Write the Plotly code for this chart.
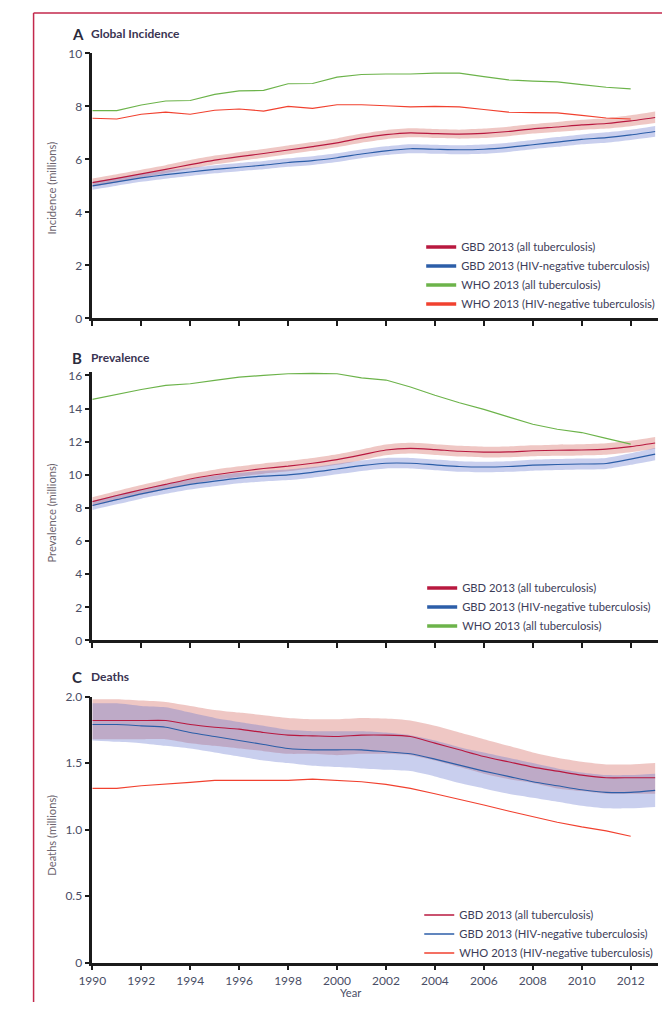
import plotly.graph_objects as go

# ---------------- data ----------------
years = list(range(1990, 2014))
who_years = list(range(1990, 2013))

# A. Incidence (millions)
inc_gbd_all = [5.12, 5.28, 5.45, 5.62, 5.80, 5.97, 6.10, 6.22, 6.35, 6.48, 6.62, 6.80,
               6.93, 7.00, 6.97, 6.95, 6.98, 7.05, 7.15, 7.22, 7.30, 7.35, 7.45, 7.58]
inc_gbd_all_lo = [4.97, 5.13, 5.30, 5.47, 5.64, 5.81, 5.94, 6.06, 6.19, 6.32, 6.46, 6.63,
                  6.76, 6.83, 6.80, 6.78, 6.80, 6.87, 6.97, 7.04, 7.11, 7.16, 7.25, 7.37]
inc_gbd_all_hi = [5.28, 5.44, 5.61, 5.78, 5.97, 6.14, 6.27, 6.39, 6.52, 6.65, 6.79, 6.97,
                  7.10, 7.17, 7.14, 7.12, 7.16, 7.23, 7.33, 7.41, 7.49, 7.55, 7.66, 7.80]
inc_gbd_neg = [5.00, 5.15, 5.30, 5.42, 5.52, 5.62, 5.70, 5.78, 5.88, 5.95, 6.06, 6.20,
               6.32, 6.40, 6.38, 6.36, 6.38, 6.45, 6.55, 6.65, 6.75, 6.82, 6.92, 7.05]
inc_gbd_neg_lo = [4.85, 5.00, 5.15, 5.27, 5.37, 5.47, 5.55, 5.63, 5.72, 5.79, 5.90, 6.04,
                  6.16, 6.23, 6.21, 6.19, 6.21, 6.28, 6.38, 6.47, 6.57, 6.63, 6.73, 6.85]
inc_gbd_neg_hi = [5.15, 5.30, 5.45, 5.58, 5.68, 5.78, 5.86, 5.94, 6.04, 6.12, 6.23, 6.37,
                  6.49, 6.57, 6.55, 6.53, 6.56, 6.63, 6.73, 6.84, 6.94, 7.02, 7.12, 7.26]
inc_who_all = [7.84, 7.84, 8.05, 8.20, 8.22, 8.45, 8.58, 8.60, 8.85, 8.86, 9.10, 9.20,
               9.22, 9.22, 9.25, 9.25, 9.12, 9.00, 8.95, 8.92, 8.82, 8.72, 8.66]
inc_who_neg = [7.55, 7.52, 7.70, 7.78, 7.70, 7.85, 7.90, 7.82, 8.00, 7.92, 8.06, 8.06,
               8.02, 7.98, 8.00, 7.98, 7.88, 7.78, 7.76, 7.75, 7.66, 7.56, 7.52]

# B. Prevalence (millions)
prev_gbd_all = [8.38, 8.75, 9.10, 9.42, 9.75, 10.00, 10.20, 10.38, 10.52, 10.70, 10.92, 11.20,
                11.50, 11.60, 11.52, 11.42, 11.37, 11.38, 11.45, 11.48, 11.50, 11.55, 11.70, 11.92]
prev_gbd_all_lo = [8.10, 8.46, 8.80, 9.12, 9.44, 9.69, 9.89, 10.07, 10.21, 10.39, 10.60, 10.88,
                   11.18, 11.28, 11.20, 11.10, 11.05, 11.06, 11.12, 11.15, 11.17, 11.21, 11.36, 11.57]
prev_gbd_all_hi = [8.65, 9.03, 9.39, 9.72, 10.06, 10.31, 10.51, 10.69, 10.83, 11.01, 11.24, 11.53,
                   11.83, 11.93, 11.85, 11.75, 11.70, 11.71, 11.78, 11.82, 11.84, 11.90, 12.05, 12.28]
prev_gbd_neg = [8.15, 8.50, 8.85, 9.15, 9.42, 9.62, 9.80, 9.92, 10.00, 10.15, 10.35, 10.55,
                10.70, 10.70, 10.60, 10.50, 10.47, 10.50, 10.58, 10.62, 10.65, 10.68, 10.95, 11.25]
prev_gbd_neg_lo = [7.88, 8.22, 8.56, 8.85, 9.11, 9.31, 9.49, 9.60, 9.68, 9.83, 10.03, 10.23,
                   10.38, 10.38, 10.28, 10.18, 10.15, 10.18, 10.25, 10.29, 10.32, 10.35, 10.60, 10.88]
prev_gbd_neg_hi = [8.42, 8.78, 9.14, 9.45, 9.73, 9.94, 10.12, 10.24, 10.32, 10.47, 10.67, 10.87,
                   11.02, 11.02, 10.92, 10.82, 10.79, 10.82, 10.91, 10.95, 10.98, 11.02, 11.30, 11.62]
prev_who_all = [14.55, 14.85, 15.15, 15.40, 15.50, 15.70, 15.90, 16.00, 16.10, 16.12, 16.10, 15.85,
                15.72, 15.30, 14.80, 14.35, 13.95, 13.50, 13.05, 12.75, 12.55, 12.20, 11.85]

# C. Deaths (millions)
dth_gbd_all = [1.82, 1.82, 1.82, 1.82, 1.79, 1.77, 1.755, 1.73, 1.71, 1.705, 1.70, 1.71,
               1.71, 1.70, 1.65, 1.60, 1.55, 1.51, 1.47, 1.44, 1.41, 1.39, 1.39, 1.39]
dth_gbd_all_lo = [1.68, 1.68, 1.68, 1.68, 1.65, 1.63, 1.61, 1.59, 1.57, 1.57, 1.56, 1.57,
                  1.57, 1.56, 1.52, 1.47, 1.42, 1.38, 1.35, 1.31, 1.29, 1.27, 1.27, 1.27]
dth_gbd_all_hi = [1.98, 1.98, 1.97, 1.96, 1.93, 1.90, 1.88, 1.86, 1.84, 1.83, 1.83, 1.84,
                  1.835, 1.82, 1.78, 1.73, 1.68, 1.63, 1.58, 1.54, 1.51, 1.49, 1.49, 1.50]
dth_gbd_neg = [1.79, 1.79, 1.78, 1.77, 1.73, 1.70, 1.67, 1.64, 1.61, 1.60, 1.60, 1.60,
               1.585, 1.57, 1.53, 1.485, 1.44, 1.40, 1.36, 1.33, 1.30, 1.28, 1.28, 1.295]
dth_gbd_neg_lo = [1.67, 1.66, 1.65, 1.63, 1.61, 1.58, 1.55, 1.52, 1.50, 1.48, 1.47, 1.46,
                  1.45, 1.44, 1.40, 1.35, 1.31, 1.27, 1.24, 1.21, 1.18, 1.16, 1.16, 1.17]
dth_gbd_neg_hi = [1.95, 1.95, 1.93, 1.92, 1.88, 1.84, 1.81, 1.78, 1.75, 1.74, 1.74, 1.74,
                  1.73, 1.71, 1.67, 1.62, 1.58, 1.54, 1.50, 1.46, 1.43, 1.41, 1.41, 1.42]
dth_who_neg = [1.31, 1.31, 1.33, 1.34, 1.355, 1.37, 1.37, 1.365, 1.37, 1.38, 1.37, 1.36,
               1.34, 1.31, 1.27, 1.23, 1.185, 1.14, 1.095, 1.055, 1.02, 0.99, 0.95]

x_tick_vals = list(range(1990, 2013, 2))
x_tick_text = [str(v) for v in x_tick_vals]
inc_ticks = [0, 2, 4, 6, 8, 10]
inc_tick_text = ["0", "2", "4", "6", "8", "10"]
prev_ticks = [0, 2, 4, 6, 8, 10, 12, 14, 16]
prev_tick_text = ["0", "2", "4", "6", "8", "10", "12", "14", "16"]
dth_ticks = [0, 0.5, 1.0, 1.5, 2.0]
dth_tick_text = ["0", "0.5", "1.0", "1.5", "2.0"]

lab_all = "GBD 2013 (all tuberculosis)"
lab_neg = "GBD 2013 (HIV-negative tuberculosis)"
lab_who_all = "WHO 2013 (all tuberculosis)"
lab_who_neg = "WHO 2013 (HIV-negative tuberculosis)"

# ---------------- style ----------------
W, H = 662, 1009
C_ALL = "#b8183f"
C_NEG = "#2c5ea8"
C_WHO_ALL = "#6cb34a"
C_WHO_NEG = "#f1412f"
BAND_ALL = "rgba(210,100,92,0.36)"
BAND_NEG = "rgba(100,118,205,0.35)"
TXT = "#4a4e66"
FONT = "Lato"


def px(xp):
    return xp / W


def py(yp):
    return 1 - yp / H


fig = go.Figure()


def band(x, lo, hi, color, xa, ya):
    fig.add_trace(go.Scatter(x=x, y=lo, mode="lines", line=dict(width=0, shape="spline", smoothing=0.6),
                             showlegend=False, hoverinfo="skip", xaxis=xa, yaxis=ya))
    fig.add_trace(go.Scatter(x=x, y=hi, mode="lines", line=dict(width=0, shape="spline", smoothing=0.6),
                             fill="tonexty", fillcolor=color, showlegend=False, hoverinfo="skip",
                             xaxis=xa, yaxis=ya))


def line(x, y, color, xa, ya, name, width=1.15, spline=True):
    fig.add_trace(go.Scatter(x=x, y=y, mode="lines", name=name,
                             line=dict(color=color, width=width,
                                       shape="spline" if spline else "linear", smoothing=0.6),
                             showlegend=False, xaxis=xa, yaxis=ya))


def legend_key(name, color, legend, width):
    fig.add_trace(go.Scatter(x=[None], y=[None], mode="lines", name=name,
                             line=dict(color=color, width=width), legend=legend,
                             showlegend=True, xaxis="x", yaxis="y"))


# Panel A
band(years, inc_gbd_all_lo, inc_gbd_all_hi, BAND_ALL, "x", "y")
band(years, inc_gbd_neg_lo, inc_gbd_neg_hi, BAND_NEG, "x", "y")
line(who_years, inc_who_all, C_WHO_ALL, "x", "y", lab_who_all, spline=False)
line(who_years, inc_who_neg, C_WHO_NEG, "x", "y", lab_who_neg, spline=False)
line(years, inc_gbd_all, C_ALL, "x", "y", lab_all)
line(years, inc_gbd_neg, C_NEG, "x", "y", lab_neg)

# Panel B
band(years, prev_gbd_all_lo, prev_gbd_all_hi, BAND_ALL, "x2", "y2")
band(years, prev_gbd_neg_lo, prev_gbd_neg_hi, BAND_NEG, "x2", "y2")
line(who_years, prev_who_all, C_WHO_ALL, "x2", "y2", lab_who_all, spline=False)
line(years, prev_gbd_all, C_ALL, "x2", "y2", lab_all)
line(years, prev_gbd_neg, C_NEG, "x2", "y2", lab_neg)

# Panel C
band(years, dth_gbd_all_lo, dth_gbd_all_hi, BAND_ALL, "x3", "y3")
band(years, dth_gbd_neg_lo, dth_gbd_neg_hi, BAND_NEG, "x3", "y3")
line(who_years, dth_who_neg, C_WHO_NEG, "x3", "y3", lab_who_neg, spline=False)
line(years, dth_gbd_all, C_ALL, "x3", "y3", lab_all)
line(years, dth_gbd_neg, C_NEG, "x3", "y3", lab_neg)

# legend keys
for nm, c in [(lab_all, C_ALL), (lab_neg, C_NEG), (lab_who_all, C_WHO_ALL), (lab_who_neg, C_WHO_NEG)]:
    legend_key(nm, c, "legend", 3.5)
for nm, c in [(lab_all, C_ALL), (lab_neg, C_NEG), (lab_who_all, C_WHO_ALL)]:
    legend_key(nm, c, "legend2", 3.5)
for nm, c in [(lab_all, C_ALL), (lab_neg, C_NEG), (lab_who_neg, C_WHO_NEG)]:
    legend_key(nm, c, "legend3", 1.6)


def ydom(top_px, bot_px):
    return [py(bot_px), py(top_px)]


xdom = [px(80), px(658)]
axis_common = dict(showline=True, linewidth=2.5, linecolor="#1b1b1b", ticks="outside",
                   ticklen=5, tickwidth=1.6, tickcolor="#1b1b1b", showgrid=False, zeroline=False,
                   tickfont=dict(family=FONT, size=12, color=TXT))

fig.update_layout(
    width=W, height=H, margin=dict(l=0, r=0, t=0, b=0),
    paper_bgcolor="white", plot_bgcolor="white",
    font=dict(family=FONT, color=TXT),
    xaxis=dict(domain=xdom, range=[1990, 2013.12], anchor="y", tickvals=x_tick_vals,
               showticklabels=False, **axis_common),
    yaxis=dict(domain=ydom(46, 315), range=[0, 10], anchor="x", tickvals=inc_ticks,
               ticktext=inc_tick_text, **axis_common),
    xaxis2=dict(domain=xdom, range=[1990, 2013.12], anchor="y2", tickvals=x_tick_vals,
                showticklabels=False, **axis_common),
    yaxis2=dict(domain=ydom(369.6, 642), range=[0, 16.2], anchor="x2", tickvals=prev_ticks,
                ticktext=prev_tick_text, **axis_common),
    xaxis3=dict(domain=xdom, range=[1990, 2013.12], anchor="y3", tickvals=x_tick_vals,
                ticktext=x_tick_text, **axis_common),
    yaxis3=dict(domain=ydom(699, 969), range=[0, 2.0], anchor="x3", tickvals=dth_ticks,
                ticktext=dth_tick_text, **axis_common),
)

leg_common = dict(xanchor="left", yanchor="top", bgcolor="rgba(0,0,0,0)", borderwidth=0,
                  font=dict(family=FONT, size=11.2, color="#3c3c58"), itemwidth=30,
                  traceorder="normal", tracegroupgap=0, itemclick=False, itemdoubleclick=False)
fig.update_layout(
    legend=dict(x=px(416), y=py(228), **leg_common),
    legend2=dict(x=px(417), y=py(574), **leg_common),
    legend3=dict(x=px(414), y=py(906), **leg_common),
)

annotations = []
# panel titles
for letter, title, ypx in [("A", "Global Incidence", 26), ("B", "Prevalence", 355), ("C", "Deaths", 679)]:
    annotations.append(dict(x=px(57), y=py(ypx), xref="paper", yref="paper", xanchor="left",
                            yanchor="middle", showarrow=False,
                            text=f"<b>{letter}</b>", font=dict(family=FONT, size=15, color="#2b2b3c")))
    annotations.append(dict(x=px(77), y=py(ypx), xref="paper", yref="paper", xanchor="left",
                            yanchor="middle", showarrow=False,
                            text=f"<b>{title}</b>", font=dict(family=FONT, size=12, color="#3a3452")))
# y titles
for txt, ycen in [("Incidence (millions)", 183), ("Prevalence (millions)", 513), ("Deaths (millions)", 840)]:
    annotations.append(dict(x=px(38), y=py(ycen), xref="paper", yref="paper", xanchor="center",
                            yanchor="middle", showarrow=False, textangle=-90, text=txt,
                            font=dict(family=FONT, size=11.2, color="#6e6670")))
annotations.append(dict(x=px(344), y=py(999), xref="paper", yref="paper", xanchor="center",
                        yanchor="middle", showarrow=False, text="Year",
                        font=dict(family=FONT, size=11.2, color=TXT)))
fig.update_layout(annotations=annotations)

# decorative frame (crimson border of the figure panel)
fig.update_layout(shapes=[
    dict(type="line", xref="paper", yref="paper", x0=px(20), x1=1, y0=py(5), y1=py(5),
         line=dict(color="#c3284c", width=1.5)),
    dict(type="line", xref="paper", yref="paper", x0=px(20), x1=px(20), y0=0, y1=py(5),
         line=dict(color="#c3284c", width=1.5)),
])

fig.write_html("out.html")
